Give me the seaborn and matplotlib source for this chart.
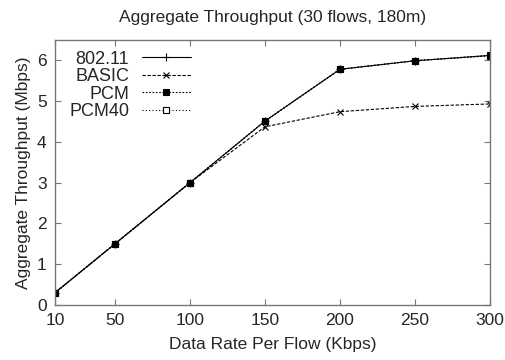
import numpy as np
import pandas as pd
import matplotlib
matplotlib.use("Agg")
import matplotlib.pyplot as plt
import seaborn as sns

# data
rates = [10, 50, 100, 150, 200, 250, 300]
thr_80211 = [0.30, 1.50, 3.00, 4.51, 5.78, 5.99, 6.12]
thr_basic = [0.30, 1.50, 3.00, 4.37, 4.74, 4.87, 4.93]
thr_pcm = [0.30, 1.50, 3.00, 4.51, 5.78, 5.99, 6.12]
thr_pcm40 = [0.30, 1.50, 3.00, 4.51, 5.78, 5.99, 6.11]
series_names = ["802.11", "BASIC", "PCM", "PCM40"]

sns.set_style("ticks")
plt.rcParams['font.family'] = ['Liberation Sans', 'DejaVu Sans']

fig = plt.figure(figsize=(5.05, 3.6), dpi=100)
ax = fig.add_axes([0.109, 0.153, 0.861, 0.736])

styles = {
    "802.11": dict(linestyle='-', marker='+', markersize=6, mfc='black'),
    "BASIC": dict(linestyle=(0, (3, 1.5)), marker='x', markersize=4),
    "PCM": dict(linestyle=(0, (1.5, 1.5)), marker='s', markersize=4, mfc='black'),
    "PCM40": dict(linestyle=(0, (1, 2)), marker='s', markersize=4, mfc='white'),
}
vals = {"802.11": thr_80211, "BASIC": thr_basic, "PCM": thr_pcm, "PCM40": thr_pcm40}

# draw PCM40 first so the filled squares sit on top
for name in ["PCM40", "BASIC", "802.11", "PCM"]:
    df = pd.DataFrame({"rate": rates, "thr": vals[name]})
    st = styles[name]
    sns.lineplot(data=df, x="rate", y="thr", ax=ax, color='black', linewidth=0.8,
                 linestyle=st['linestyle'], marker=st['marker'], markersize=st['markersize'],
                 markerfacecolor=st.get('mfc', 'none'), markeredgecolor='black',
                 markeredgewidth=0.8, label=name)

ax.set_xlim(10, 300)
ax.set_ylim(0, 6.5)
ax.set_xticks(rates)
ax.set_yticks(range(0, 7))
ax.tick_params(direction='in', top=True, right=True, length=4, width=0.8,
               color='#777777', labelsize=12.5, pad=6)
for sp in ax.spines.values():
    sp.set_color('#777777')
    sp.set_linewidth(1.0)

ax.set_xlabel("Data Rate Per Flow (Kbps)", fontsize=12.5, labelpad=6)
ax.set_ylabel("Aggregate Throughput (Mbps)", fontsize=12.5, labelpad=4)
ax.set_title("Aggregate Throughput (30 flows, 180m)", fontsize=12.5, pad=13)

h, l = ax.get_legend_handles_labels()
order = [l.index(n) for n in series_names]
ax.legend([h[i] for i in order], series_names, loc='upper left',
          bbox_to_anchor=(0.008, 1.0), frameon=False, markerfirst=False,
          fontsize=13, handlelength=2.7, handletextpad=0.7, labelspacing=0.02,
          borderaxespad=0.2)

fig.savefig("out.png", dpi=100)
